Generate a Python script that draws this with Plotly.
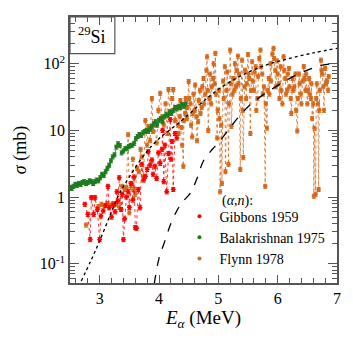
import plotly.graph_objects as go

# Gibbons 1959 (alpha,n) data, E in MeV, sigma in mb
GIB_E = [2.75, 2.80, 2.84, 2.86, 2.90, 2.92, 2.96, 3.00, 3.02, 3.06, 3.10, 3.14, 3.16, 3.20,
         3.23, 3.26, 3.29, 3.31, 3.33, 3.36, 3.38, 3.40, 3.42, 3.45, 3.48, 3.50, 3.53, 3.56,
         3.58, 3.60, 3.62, 3.65, 3.68, 3.71, 3.74, 3.77, 3.80, 3.82, 3.85, 3.88, 3.90, 3.93,
         3.96, 3.99, 4.02, 4.05, 4.06, 4.08, 4.10, 4.13, 4.16, 4.19, 4.20, 4.22, 4.24, 4.27, 4.30]
GIB_S = [0.78, 0.55, 0.23, 0.98, 0.55, 0.98, 0.65, 0.23, 0.52, 0.62, 0.75, 1.45, 0.69, 0.50,
         0.76, 0.60, 1.2, 0.87, 1.95, 0.65, 1.1, 0.23, 0.47, 1.0, 1.2, 0.70, 1.6, 0.9,
         2.0, 0.35, 0.34, 1.3, 0.69, 3.1, 1.8, 2.05, 2.6, 4.8, 3.0, 3.6, 2.2, 2.9,
         1.9, 4.6, 3.2, 5.2, 10, 1.7, 6.0, 1.2, 4.5, 14.5, 3.7, 6.8, 1.3, 9.0, 7.7]

# Balakrishnan 1975
BAL_E = [2.50, 2.53, 2.56, 2.59, 2.62, 2.65, 2.68, 2.71, 2.74, 2.77, 2.80, 2.83, 2.86, 2.89,
         2.92, 2.95, 2.98, 3.01, 3.04, 3.07, 3.10, 3.13, 3.16, 3.19, 3.22, 3.25, 3.28, 3.31,
         3.34, 3.37, 3.40, 3.43, 3.46, 3.49, 3.52, 3.55, 3.58, 3.61, 3.64, 3.67, 3.70, 3.73,
         3.76, 3.79, 3.82, 3.85, 3.88, 3.91, 3.94, 3.97, 4.00, 4.03, 4.06, 4.09, 4.12, 4.15,
         4.18, 4.21, 4.24, 4.27, 4.30, 4.33, 4.36, 4.39, 4.42, 4.45]
BAL_S = [1.40, 1.35, 1.45, 1.55, 1.50, 1.60, 1.55, 1.65, 1.70, 1.60, 1.65, 1.75, 1.70, 1.60,
         1.70, 1.80, 1.75, 1.95, 2.20, 2.10, 2.40, 2.70, 3.00, 3.50, 4.00, 4.30, 5.60, 6.30,
         5.90, 4.60, 4.90, 5.30, 5.40, 5.70, 5.90, 6.00, 6.40, 7.50, 8.10, 8.70, 8.40, 9.20,
         9.60, 10.0, 9.70, 10.5, 11.5, 12.5, 13.5, 12.0, 14.0, 15.0, 13.5, 16.0, 17.5, 16.5,
         19.0, 18.0, 20.0, 22.0, 21.0, 23.0, 22.0, 24.5, 23.0, 25.0]

# Flynn 1978
FLY_E = [2.77, 2.98, 3.03, 3.08, 3.13, 3.18, 3.23, 3.28, 3.33, 3.38,
         3.42, 3.45, 3.48, 3.50, 3.53, 3.56, 3.58, 3.60, 3.63, 3.66,
         3.69, 3.71, 3.74, 3.77, 3.80, 3.82, 3.85, 3.88, 3.90, 3.93,
         3.96, 3.99, 4.02, 4.05, 4.08, 4.11, 4.14, 4.16, 4.19, 4.22,
         4.24, 4.27,
         4.30, 4.32, 4.33, 4.35, 4.36, 4.38, 4.39, 4.41, 4.42, 4.44,
         4.45, 4.47, 4.48, 4.50, 4.51, 4.53, 4.54, 4.56, 4.57, 4.58,
         4.60, 4.61, 4.63, 4.64, 4.66, 4.67, 4.69, 4.70, 4.72, 4.73,
         4.75, 4.76, 4.78, 4.80, 4.81, 4.82, 4.83, 4.85, 4.86, 4.88,
         4.89, 4.91, 4.92, 4.94, 4.95, 4.96, 4.98, 4.99, 5.01, 5.02,
         5.03, 5.05, 5.06, 5.08, 5.09, 5.11, 5.12, 5.14, 5.15, 5.17,
         5.18, 5.20, 5.21, 5.22, 5.24, 5.25, 5.27, 5.28, 5.30, 5.31,
         5.33, 5.34, 5.35, 5.37, 5.38, 5.40, 5.41, 5.42, 5.44, 5.45,
         5.47, 5.48, 5.50, 5.51, 5.52, 5.54, 5.55, 5.57, 5.58, 5.60,
         5.61, 5.63, 5.64, 5.66, 5.67, 5.69, 5.71, 5.72, 5.74, 5.75,
         5.77, 5.79, 5.80, 5.82, 5.83, 5.85, 5.86, 5.88, 5.89, 5.91,
         5.93, 5.94, 5.96, 5.97, 5.99, 6.00, 6.02, 6.03, 6.05, 6.06,
         6.08, 6.10, 6.11, 6.13, 6.14, 6.16, 6.17, 6.19, 6.20, 6.22,
         6.23, 6.25, 6.26, 6.28, 6.30, 6.31, 6.33, 6.34, 6.36, 6.37,
         6.39, 6.40, 6.42, 6.44, 6.45, 6.47, 6.48, 6.50, 6.51, 6.53,
         6.54, 6.56, 6.57, 6.58, 6.60, 6.61, 6.62, 6.64, 6.65, 6.66,
         6.68, 6.69, 6.70, 6.71, 6.73, 6.74, 6.75, 6.77, 6.78, 6.80,
         6.81, 6.83, 6.85, 6.86]
FLY_S = [0.38, 0.72, 0.78, 0.74, 0.80, 0.76, 0.80, 0.78, 0.70, 1.45,
         1.30, 1.40, 8.6, 0.58, 1.5, 3.7, 1.3, 1.1, 2.7, 2.4,
         5.2, 4.0, 2.0, 14, 6.0, 11.5, 7.0, 30, 9.6, 12,
         6.5, 20, 36, 16, 12, 25, 9, 41, 18, 30,
         41, 14,
         22, 12, 9, 16, 28, 11, 6, 2.9, 14, 18,
         30, 15, 22, 54, 30, 25, 12, 8, 18, 35,
         20, 48, 16, 7, 13.5, 28, 40, 18, 22, 45,
         60, 25, 35, 80, 127, 40, 10, 30, 70, 25,
         45, 60, 100, 50, 143, 35, 7.7, 20, 40, 15,
         1.2, 12, 1.6, 55, 30, 90, 2.4, 40, 75, 3.1,
         25, 160, 50, 11.5, 35, 60, 40, 100, 45, 80,
         130, 50, 70, 2.6, 30, 113, 20, 3.9, 45, 80,
         30, 50, 137, 70, 60, 9, 40, 107, 55, 40,
         75, 90, 20, 30, 65, 120, 160, 90, 70, 35,
         45, 1.45, 25, 10.8, 40, 60, 35, 100, 55, 140,
         170, 120, 80, 45, 110, 70, 50, 30, 90, 40,
         25, 127, 80, 60, 35, 40, 70, 85, 45, 30,
         18, 60, 40, 45, 70, 20, 9.8, 30, 70, 50,
         35, 25, 55, 91, 60, 40, 70, 25, 40, 60,
         35, 30, 50, 15, 25, 1.03, 10.8, 1.1, 30, 50,
         25, 1.3, 20, 40, 113, 80, 70, 45, 20, 85,
         50, 55, 40, 64]

# model curves
DOT_E = [2.69, 2.85, 3.0, 3.2, 3.34, 3.5, 3.76, 4.0, 4.36, 4.7, 4.98, 5.37, 5.8, 6.2, 6.6, 7.0]
DOT_S = [0.055, 0.11, 0.22, 0.6, 1.16, 2.0, 4.4, 7.5, 13.5, 25, 40, 65, 95, 120, 145, 170]
DASH_E = [3.92, 4.0, 4.1, 4.2, 4.3, 4.4, 4.53, 4.65, 4.75, 4.9, 5.0, 5.2, 5.37, 5.6, 5.93,
          6.2, 6.5, 6.75, 7.0]
DASH_S = [0.05, 0.12, 0.22, 0.40, 0.62, 0.85, 1.15, 2.0, 3.5, 5.2, 6.5, 11, 17, 27, 43,
          60, 80, 95, 100]

FONT = "Liberation Serif"
AXCOL = "#555555"

SERIES = [
    ("Flynn 1978", FLY_E, FLY_S, "#d2691e", 0.035, 3),
    ("Gibbons 1959", GIB_E, GIB_S, "#ff0000", 0.04, 1),
    ("Balakrishnan 1975", BAL_E, BAL_S, "#1e7a1e", 0.015, 2),
]

fig = go.Figure()
for name, e, s, col, dx, rank in SERIES:
    # dotted connecting line
    fig.add_trace(go.Scatter(x=e, y=s, mode="lines", showlegend=False, hoverinfo="skip",
                             line=dict(color=col, width=0.8, dash="dot")))
    fig.add_trace(go.Scatter(
        x=e, y=s, mode="markers", name=name, legendrank=rank,
        marker=dict(color=col, size=4, symbol="circle"),
        error_x=dict(type="constant", value=dx, thickness=1.5, width=0, color=col),
        error_y=dict(type="percent", value=7, thickness=1, width=2, color=col),
    ))

fig.add_trace(go.Scatter(x=DOT_E, y=DOT_S, mode="lines", showlegend=False,
                         line=dict(color="black", width=1.3, dash="dot", shape="spline")))
fig.add_trace(go.Scatter(x=DASH_E, y=DASH_S, mode="lines", showlegend=False,
                         line=dict(color="black", width=1.3, dash="dash", shape="spline")))

# page body adds an 8px offset, so the figure is sized 8px smaller
fig.update_layout(
    width=345, height=330,
    margin=dict(l=62, r=16, t=7, b=55),
    plot_bgcolor="white", paper_bgcolor="white",
    font=dict(family=FONT, size=16, color="black"),
    legend=dict(x=0.41, y=0.31, xanchor="left", yanchor="top",
                font=dict(family=FONT, size=14), bgcolor="rgba(0,0,0,0)",
                tracegroupgap=0, itemwidth=30),
    shapes=[dict(type="rect", xref="paper", yref="paper", x0=0, x1=0.168, y0=0.862, y1=1,
                 line=dict(color=AXCOL, width=1.2))],
    annotations=[
        dict(text="<sup>29</sup>Si", xref="paper", yref="paper", x=0.084, y=0.931,
             xanchor="center", yanchor="middle",
             showarrow=False, font=dict(family=FONT, size=18)),
        dict(text="(<i>α</i>,<i>n</i>):", xref="paper", yref="paper", x=0.56, y=0.31,
             xanchor="left", yanchor="middle", showarrow=False, font=dict(family=FONT, size=14)),
    ],
)
fig.update_xaxes(
    range=[2.5, 7], dtick=1, ticks="inside", ticklen=8, tickcolor=AXCOL,
    showline=True, linecolor=AXCOL, linewidth=1.5, mirror="allticks", showgrid=False,
    zeroline=False, minor=dict(dtick=0.2, ticks="inside", ticklen=5, tickcolor=AXCOL),
    title=dict(text="<i>E</i><sub><i>α</i></sub> (MeV)", font=dict(family=FONT, size=19),
               standoff=5),
)
fig.update_yaxes(
    type="log", range=[-1.29, 2.70], ticks="inside", ticklen=9, tickcolor=AXCOL,
    tickvals=[0.1, 1, 10, 100], ticktext=["10<sup>-1</sup>", "1", "10", "10<sup>2</sup>"],
    showline=True, linecolor=AXCOL, linewidth=1.5, mirror="allticks", showgrid=False,
    zeroline=False, minor=dict(dtick="D1", ticks="inside", ticklen=5, tickcolor=AXCOL),
    title=dict(text="<i>σ</i> (mb)", font=dict(family=FONT, size=18), standoff=8),
)

fig.write_html("out.html")
